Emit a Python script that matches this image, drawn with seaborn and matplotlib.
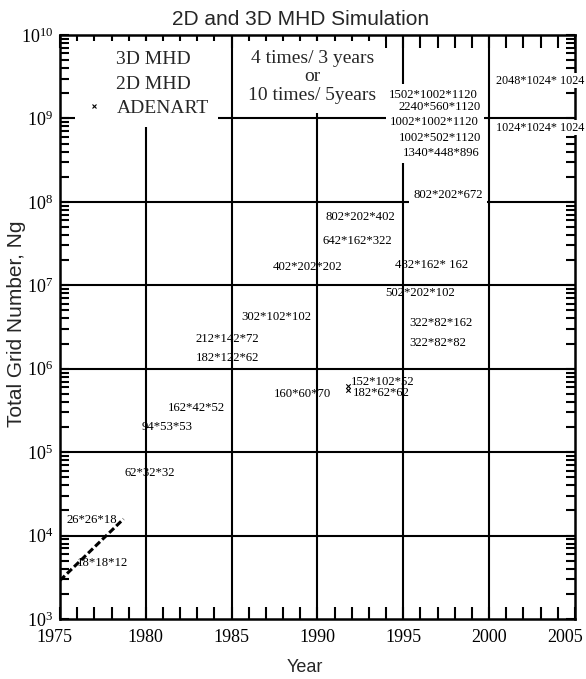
import matplotlib
matplotlib.use("Agg")
import matplotlib.pyplot as plt
from matplotlib.lines import Line2D
from matplotlib.transforms import ScaledTranslation
from matplotlib.ticker import MultipleLocator, FixedLocator, NullFormatter, LogFormatterSciNotation
import numpy as np
import seaborn as sns

# Simulation runs: year, total grid number Ng and the grid size of each run
run_year = [1977.45, 1976.87, 1980.25, 1981.25, 1982.94, 1984.75, 1984.75,
            1987.6, 1989.1, 1989.4, 1992.3, 1992.5, 1993.8, 1993.7,
            1996.65, 1995.96, 1997.2, 1997.0, 1997.6,
            1996.77, 1997.12, 1996.83, 1997.12, 1997.18,
            2002.96, 2002.96]
run_ng = [4.7e3, 1.54e4, 5.6e4, 2.0e5, 3.4e5, 1.35e6, 2.27e6,
          4.2e6, 5.0e5, 1.66e7, 3.4e7, 6.6e7, 6.9e5, 5.1e5,
          1.76e7, 8.1e6, 3.55e6, 2.04e6, 1.21e8,
          1.92e9, 1.38e9, 9.1e8, 5.85e8, 3.87e8,
          2.82e9, 7.7e8]
run_grid = ["18*18*12", "26*26*18", "62*32*32", "94*53*53", "162*42*52",
            "182*122*62", "212*142*72", "302*102*102", "160*60*70",
            "402*202*202", "642*162*322", "802*202*402", "152*102*52",
            "182*62*62", "482*162* 162", "502*202*102", "322*82*162",
            "322*82*82", "802*202*672", "1502*1002*1120", "2240*560*1120",
            "1002*1002*1120", "1002*502*1120", "1340*448*896",
            "2048*1024* 1024", "1024*1024* 1024"]

# Runs whose labels sit on a white background
boxed_runs = ["802*202*672", "1502*1002*1120", "2240*560*1120",
              "1002*1002*1120", "1002*502*1120", "1340*448*896"]
# Runs at the right edge: smaller type, drawn over the frame
edge_runs = ["2048*1024* 1024", "1024*1024* 1024"]

# ADENART runs
adenart_year = [1991.75, 1991.75]
adenart_ng = [6.2e5, 5.5e5]

# Early growth trend
trend_year = [1975.0, 1978.7]
trend_ng = [2.9e3, 1.58e4]

legend_labels = ["3D MHD", "2D MHD", "ADENART"]
growth_note = "4 times/ 3 years\nor\n10 times/ 5years"

sns.set_theme(style="ticks")
plt.rcParams.update({
    "font.family": ["Liberation Serif", "DejaVu Serif"],
    "mathtext.fontset": "custom",
    "mathtext.rm": "Liberation Serif",
    "mathtext.it": "Liberation Serif:italic",
    "mathtext.bf": "Liberation Serif:bold",
    "mathtext.default": "regular",
    "axes.edgecolor": "black",
    "xtick.color": "black",
    "ytick.color": "black",
})

fig = plt.figure(figsize=(5.86, 6.79), dpi=100)
ax = fig.add_axes([0.1024, 0.0884, 0.8788, 0.8601])
ax.set_yscale("log")
ax.set_xlim(1975, 2005)
ax.set_ylim(1e3, 1e10)

# Heavy grid at every 5 years and every decade
for x in range(1980, 2005, 5):
    ax.axvline(x, color="black", lw=1.5, zorder=1)
for e in range(4, 10):
    ax.axhline(10.0 ** e, color="black", lw=1.5, zorder=1)

# Trend line
sns.lineplot(x=trend_year, y=trend_ng, ax=ax, color="black", lw=2.2, zorder=3)
ax.lines[-1].set_dashes((2.2, 1.0))

# ADENART points
sns.scatterplot(x=adenart_year, y=adenart_ng, ax=ax, marker="x", color="black",
                s=10, linewidth=0.8, zorder=3, legend=False)

# Grid size labels
for yr, ng, txt in zip(run_year, run_ng, run_grid):
    if txt in edge_runs:
        ax.text(yr, ng, txt, ha="center", va="center", fontsize=8.7,
                color="black", zorder=3, clip_on=False,
                bbox=dict(boxstyle="square,pad=0.12", fc="white", ec="none"))
        continue
    if txt in boxed_runs:
        # white backing drawn underneath all labels so boxes never hide text
        ax.text(yr, ng, txt, ha="center", va="center", fontsize=9.2,
                color="none", zorder=1.5,
                bbox=dict(boxstyle="square,pad=0.35", fc="white", ec="none"))
    ax.text(yr, ng, txt, ha="center", va="center", fontsize=9.2,
            color="black", zorder=2, clip_on=False)

# Growth rate note
ax.text(1989.7, 3.16e9, growth_note, ha="center", va="center",
        multialignment="center", fontsize=14, linespacing=1.12, zorder=2,
        bbox=dict(boxstyle="square,pad=0.45", fc="white", ec="none"))

# Legend
handles = [Line2D([], [], linestyle="none"),
           Line2D([], [], linestyle="none"),
           Line2D([], [], linestyle="none", marker="x", color="black",
                  markersize=3, markeredgewidth=0.8)]
leg = ax.legend(handles, legend_labels, loc="upper left",
                bbox_to_anchor=(0.029, 0.99), borderaxespad=0, frameon=True,
                fancybox=False, facecolor="white", edgecolor="none",
                framealpha=1, fontsize=14, handlelength=1.0,
                handletextpad=0.63, labelspacing=0.35, borderpad=0.5)
leg.set_zorder(2)

# Ticks (only within the visible range)
decades = [10.0 ** e for e in range(3, 11)]
minor_y = [m * 10.0 ** e for e in range(3, 10) for m in range(2, 10)]
ax.xaxis.set_major_locator(MultipleLocator(5))
ax.xaxis.set_minor_locator(MultipleLocator(1))
ax.yaxis.set_major_locator(FixedLocator(decades))
ax.yaxis.set_minor_locator(FixedLocator(minor_y))
ax.yaxis.set_major_formatter(LogFormatterSciNotation())
ax.yaxis.set_minor_formatter(NullFormatter())
ax.tick_params(which="both", direction="in", top=True, right=True,
               width=1.5, labelsize=13, pad=7)
ax.tick_params(axis="x", which="both", length=9)
ax.tick_params(axis="y", which="both", length=6.5, pad=5)
for sp in ax.spines.values():
    sp.set_linewidth(1.8)
    sp.set_color("black")
    sp.set_zorder(2.6)

# Pull the end year labels inward
fig.canvas.draw()
shifts = {1975: -6, 2005: -10}
for tick in ax.xaxis.get_major_ticks():
    loc = int(round(tick.get_loc()))
    if loc in shifts:
        lab = tick.label1
        lab.set_transform(lab.get_transform() +
                          ScaledTranslation(shifts[loc] / 100, 0, fig.dpi_scale_trans))

ax.set_xlabel("Year", family="Liberation Sans", fontsize=13)
ax.set_ylabel("Total Grid Number, Ng", family="Liberation Sans", fontsize=15)
ax.xaxis.set_label_coords(0.476, -0.069)
ax.yaxis.set_label_coords(-0.066, 0.505)
ax.set_title("2D and 3D MHD Simulation", family="Liberation Sans",
             fontsize=15, x=0.468, pad=7)

fig.savefig("out.png", dpi=100, facecolor="white")
